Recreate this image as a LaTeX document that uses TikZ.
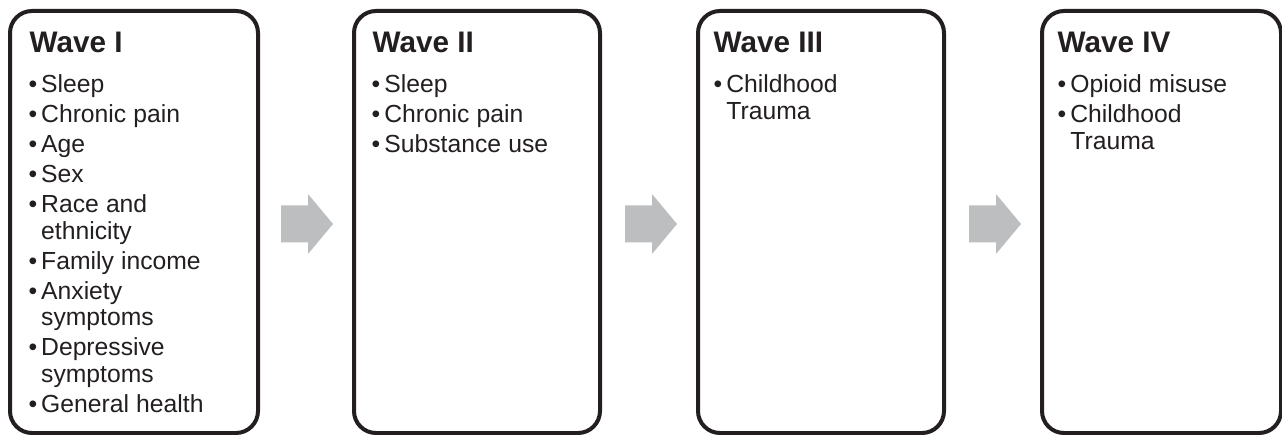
\documentclass[tikz,border=0pt]{standalone}
\usepackage{fontspec}
\setmainfont{Liberation Sans}
\usetikzlibrary{calc}
\definecolor{ink}{HTML}{231F20}
\definecolor{arrowgrey}{HTML}{BCBEC0}
\newlength{\bind}
\setlength{\bind}{12.7pt}
\newcommand\bitem[1]{\noindent\hangindent=\bind\hangafter=1\makebox[\bind][l]{\textbullet}#1\par}
\newcommand\itemsetup{\fontsize{24.7}{26.5}\selectfont\setlength{\parskip}{3.5pt}\setlength{\parindent}{0pt}%
  \rightskip=0pt plus 1fil\spaceskip=0.29em\relax}
\begin{document}
\begin{tikzpicture}[x=1pt,y=-1pt,
  wavebox/.style={draw=ink, line width=4pt, rounded corners=22pt, fill=white, inner sep=0pt, minimum height=422pt},
  wavetitle/.style={anchor=base west, inner sep=0pt, text=ink, font=\fontsize{29.7}{32}\selectfont\bfseries},
  itemlist/.style={anchor=base west, inner sep=0pt, text=ink, text width=235pt},
  blockarrow/.style={fill=arrowgrey}
]
\useasboundingbox (0,0) rectangle (1282,435);
\clip (0,0) rectangle (1282,435);

% boxes
\node[wavebox, minimum width=248pt] (b1) at (134,222) {};
\node[wavebox, minimum width=246pt] (b2) at (477,222) {};
\node[wavebox, minimum width=246pt] (b3) at (821,222) {};
\node[wavebox, minimum width=239pt] (b4) at (1161.5,222) {};

% titles
\node[wavetitle] (t1) at (29.5,53) {Wave I};
\node[wavetitle] (t2) at (372.5,53) {Wave II};
\node[wavetitle] (t3) at (713.5,53) {Wave III};
\node[wavetitle] (t4) at (1057.5,53) {Wave IV};

% item lists
\node[itemlist] (l1) at (28.3,93) {\itemsetup%
  \bitem{Sleep}%
  \bitem{Chronic pain}%
  \bitem{Age}%
  \bitem{Sex}%
  \bitem{Race and\newline ethnicity}%
  \bitem{Family income}%
  \bitem{Anxiety\newline symptoms}%
  \bitem{Depressive\newline symptoms}%
  \bitem{General health}};
\node[itemlist] (l2) at (371.5,93) {\itemsetup%
  \bitem{Sleep}%
  \bitem{Chronic pain}%
  \bitem{Substance use}};
\node[itemlist] (l3) at (713.5,93) {\itemsetup%
  \bitem{Childhood\newline Trauma}};
\node[itemlist] (l4) at (1057.5,93) {\itemsetup%
  \bitem{Opioid misuse}%
  \bitem{Childhood\newline Trauma}};

% block arrows between boxes
\coordinate (a1) at (307,224);
\coordinate (a2) at (651,224);
\coordinate (a3) at (995,224);
\foreach \a in {a1,a2,a3}{
  \fill[blockarrow] ($(\a)+(-26,-18.5)$) -- ($(\a)+(1,-18.5)$) -- ($(\a)+(1,-30)$)
    -- ($(\a)+(26,0)$) -- ($(\a)+(1,30)$) -- ($(\a)+(1,18.5)$) -- ($(\a)+(-26,18.5)$) -- cycle;
}
\end{tikzpicture}
\end{document}
